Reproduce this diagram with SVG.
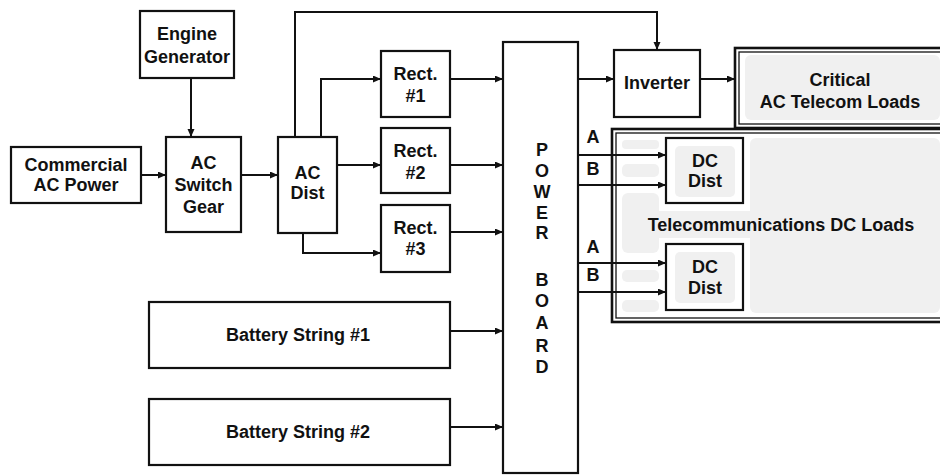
<svg xmlns="http://www.w3.org/2000/svg" width="940" height="475" viewBox="0 0 940 475">
<defs>
<style>
.box{fill:#fff;stroke:#111;stroke-width:2.2}
.outer{fill:#fff;stroke:#111;stroke-width:2.6}
.inner{fill:none;stroke:#111;stroke-width:1.3}
.gray{fill:#f0f0f0;stroke:none}
.t{font-family:"Liberation Sans",Arial,sans-serif;font-weight:bold;font-size:18px;fill:#111;text-anchor:middle}
.c{fill:none;stroke:#111;stroke-width:2}
</style>
<marker id="ar" markerUnits="userSpaceOnUse" markerWidth="9" markerHeight="8" refX="8" refY="3.5" orient="auto">
<path d="M0,0 L8,3.5 L0,7 z" fill="#111"/>
</marker>
</defs>
<rect width="940" height="475" fill="#fff"/>

<g id="critical-loads">
<rect class="outer" x="735" y="48" width="215" height="80"/>
<rect class="inner" x="739" y="52" width="210" height="72"/>
<rect class="gray" x="745" y="55" width="195" height="65" rx="6"/>
<text class="t" x="840" y="86">Critical</text>
<text class="t" x="840" y="108">AC Telecom Loads</text>
</g>

<g id="dc-loads">
<rect class="outer" x="612" y="129" width="340" height="193"/>
<rect class="inner" x="616" y="133" width="330" height="185"/>
<rect class="gray" x="622" y="140" width="37" height="9" rx="4"/>
<rect class="gray" x="622" y="164" width="37" height="13" rx="5"/>
<rect class="gray" x="622" y="193" width="37" height="60" rx="6"/>
<rect class="gray" x="622" y="270" width="37" height="12" rx="5"/>
<rect class="gray" x="622" y="300" width="37" height="12" rx="5"/>
<rect class="gray" x="750" y="138" width="190" height="175" rx="6"/>
<rect class="gray" x="643" y="211" width="275" height="27" rx="6"/>
<text class="t" x="781" y="231">Telecommunications DC Loads</text>
</g>

<g id="engine-generator">
<rect class="box" x="140" y="11" width="94" height="67"/>
<text class="t" x="187" y="40">Engine</text>
<text class="t" x="187" y="63">Generator</text>
</g>

<g id="commercial-ac">
<rect class="box" x="11" y="147" width="130" height="56"/>
<text class="t" x="76" y="171">Commercial</text>
<text class="t" x="76" y="191">AC Power</text>
</g>

<g id="ac-switch-gear">
<rect class="box" x="166" y="137" width="75" height="95"/>
<text class="t" x="203.5" y="169">AC</text>
<text class="t" x="203.5" y="191">Switch</text>
<text class="t" x="203.5" y="213">Gear</text>
</g>

<g id="ac-dist">
<rect class="box" x="278" y="137" width="59" height="96"/>
<text class="t" x="307.5" y="179">AC</text>
<text class="t" x="307.5" y="199">Dist</text>
</g>

<g id="rect1">
<rect class="box" x="381" y="51" width="69" height="66"/>
<text class="t" x="415.5" y="80">Rect.</text>
<text class="t" x="415.5" y="102">#1</text>
</g>

<g id="rect2">
<rect class="box" x="381" y="128" width="69" height="65"/>
<text class="t" x="415.5" y="157">Rect.</text>
<text class="t" x="415.5" y="179">#2</text>
</g>

<g id="rect3">
<rect class="box" x="381" y="205" width="69" height="67"/>
<text class="t" x="415.5" y="234">Rect.</text>
<text class="t" x="415.5" y="255">#3</text>
</g>

<g id="battery1">
<rect class="box" x="149" y="302" width="301" height="66"/>
<text class="t" x="298" y="341">Battery String #1</text>
</g>

<g id="battery2">
<rect class="box" x="149" y="399" width="301" height="66"/>
<text class="t" x="298" y="438">Battery String #2</text>
</g>

<g id="power-board">
<rect class="box" x="503" y="42" width="75" height="431"/>
<text class="t" x="542" y="156">P</text>
<text class="t" x="542" y="177">O</text>
<text class="t" x="542" y="198">W</text>
<text class="t" x="542" y="219">E</text>
<text class="t" x="542" y="239">R</text>
<text class="t" x="542" y="286">B</text>
<text class="t" x="542" y="307">O</text>
<text class="t" x="542" y="329">A</text>
<text class="t" x="542" y="352">R</text>
<text class="t" x="542" y="373">D</text>
</g>

<g id="inverter">
<rect class="box" x="614" y="50" width="86" height="67"/>
<text class="t" x="657" y="89">Inverter</text>
</g>

<g id="dc-dist1">
<rect class="box" x="666" y="138" width="77" height="65"/>
<rect class="gray" x="675" y="146" width="60" height="51" rx="5"/>
<text class="t" x="705" y="167">DC</text>
<text class="t" x="705" y="187">Dist</text>
</g>

<g id="dc-dist2">
<rect class="box" x="666" y="244" width="77" height="66"/>
<rect class="gray" x="675" y="252" width="60" height="51" rx="5"/>
<text class="t" x="705" y="273">DC</text>
<text class="t" x="705" y="294">Dist</text>
</g>

<g id="bus-labels">
<text class="t" x="593" y="143">A</text>
<text class="t" x="593" y="175">B</text>
<text class="t" x="593" y="253">A</text>
<text class="t" x="593" y="281">B</text>
</g>

<g id="connectors">
<path class="c" d="M191,78 V137" marker-end="url(#ar)"/>
<path class="c" d="M141,175 H166" marker-end="url(#ar)"/>
<path class="c" d="M241,175 H278" marker-end="url(#ar)"/>
<path class="c" d="M295,137 V12 H657 V50" marker-end="url(#ar)"/>
<path class="c" d="M321,137 V79 H381" marker-end="url(#ar)"/>
<path class="c" d="M337,165 H381" marker-end="url(#ar)"/>
<path class="c" d="M303,233 V253 H381" marker-end="url(#ar)"/>
<path class="c" d="M450,79 H503" marker-end="url(#ar)"/>
<path class="c" d="M450,165 H503" marker-end="url(#ar)"/>
<path class="c" d="M450,232 H503" marker-end="url(#ar)"/>
<path class="c" d="M450,331 H503" marker-end="url(#ar)"/>
<path class="c" d="M450,427 H503" marker-end="url(#ar)"/>
<path class="c" d="M578,79 H614" marker-end="url(#ar)"/>
<path class="c" d="M700,79 H735" marker-end="url(#ar)"/>
<path class="c" d="M578,155 H666" marker-end="url(#ar)"/>
<path class="c" d="M578,185 H666" marker-end="url(#ar)"/>
<path class="c" d="M578,263 H666" marker-end="url(#ar)"/>
<path class="c" d="M578,292 H666" marker-end="url(#ar)"/>
</g>
</svg>
